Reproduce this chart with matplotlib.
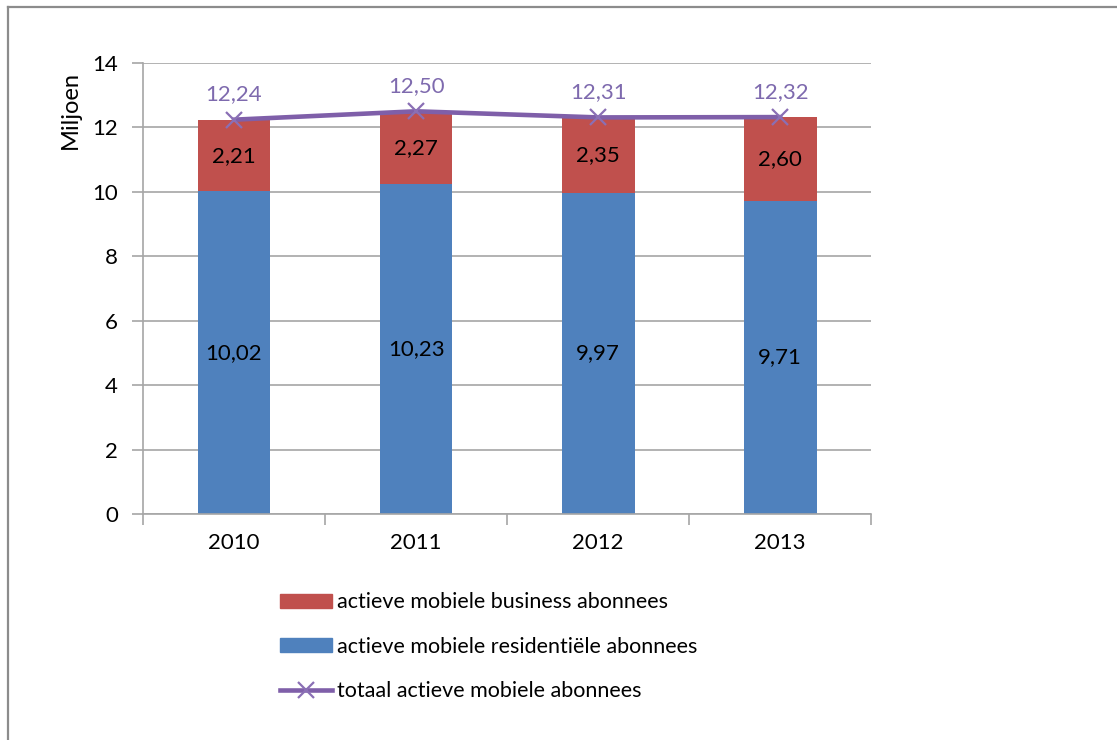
import matplotlib
matplotlib.use("Agg")
import matplotlib.pyplot as plt
from matplotlib.lines import Line2D
from matplotlib.patches import Patch
import numpy as np

years = ["2010", "2011", "2012", "2013"]
residential = [10.02, 10.23, 9.97, 9.71]
business = [2.21, 2.27, 2.35, 2.60]
total = [12.24, 12.50, 12.31, 12.32]

label_business = "actieve mobiele business abonnees"
label_residential = "actieve mobiele residentiële abonnees"
label_total = "totaal actieve mobiele abonnees"

blue = "#4F81BD"
red = "#C0504D"
purple = "#7F5FA9"
grid_gray = "#A6A6A6"

plt.rcParams["font.family"] = ["Lato", "DejaVu Sans"]


def nl(v):
    return f"{v:.2f}".replace(".", ",")


fig = plt.figure(figsize=(11.17, 7.4), dpi=100)
ax = fig.add_axes([0.128, 0.3054, 0.652, 0.6095])

x = np.arange(len(years))
w = 0.4
ax.bar(x, residential, w, color=blue, zorder=2)
ax.bar(x, business, w, bottom=residential, color=red, zorder=2)
ax.plot(x, total, color=purple, lw=3.3, marker="x", markersize=11,
        markeredgewidth=1.6, markeredgecolor="#8A6FB5", zorder=3)

for i in range(len(years)):
    ax.text(x[i], residential[i] / 2, nl(residential[i]), ha="center",
            va="center", fontsize=16, color="black", zorder=4)
    ax.text(x[i], residential[i] + business[i] / 2, nl(business[i]),
            ha="center", va="center", fontsize=16, color="black", zorder=4)
    ax.annotate(nl(total[i]), (x[i], total[i]), xytext=(0, 11),
                textcoords="offset points", ha="center", va="bottom",
                fontsize=16, color="#7E6AAE", zorder=4)

ax.set_xlim(-0.5, len(years) - 0.5)
ax.set_ylim(0, 14)
ax.set_yticks(range(0, 15, 2))
ax.yaxis.grid(True, color=grid_gray, lw=1.2, zorder=0)
ax.set_axisbelow(True)

# year labels centred, tick marks on the category boundaries
ax.set_xticks(x)
ax.set_xticklabels(years, fontsize=16)
ax.tick_params(axis="x", length=0, pad=14)
ax.set_xticks(np.arange(-0.5, len(years)), minor=True)
ax.tick_params(axis="x", which="minor", length=8, color=grid_gray, width=1.2)
ax.tick_params(axis="y", labelsize=16, length=8, color=grid_gray, width=1.2,
               pad=10)

for side in ["top", "right"]:
    ax.spines[side].set_visible(False)
for side in ["left", "bottom"]:
    ax.spines[side].set_color(grid_gray)
    ax.spines[side].set_linewidth(1.2)

fig.text(70 / 1117, 1 - 110 / 740, "Miljoen", rotation=90, ha="center",
         va="center", fontsize=17)

handles = [
    Patch(color=red),
    Patch(color=blue),
    Line2D([], [], color=purple, lw=3.3, marker="x", markersize=11,
           markeredgecolor="#8A6FB5", markeredgewidth=1.6),
]
fig.legend(handles, [label_business, label_residential, label_total],
           loc="upper left", bbox_to_anchor=(261 / 1117, 1 - 573 / 740),
           frameon=False, fontsize=15.5, handlelength=2.4, handleheight=0.6,
           handletextpad=0.25, labelspacing=1.13)

# outer frame, only the left and top edges are inside the image
fig.add_artist(Line2D([8 / 1117, 8 / 1117], [0, 1 - 7 / 740],
                      color="#8C8C8C", lw=1.6))
fig.add_artist(Line2D([8 / 1117, 1], [1 - 7 / 740, 1 - 7 / 740],
                      color="#8C8C8C", lw=1.6))

fig.savefig("out.png", dpi=100)
